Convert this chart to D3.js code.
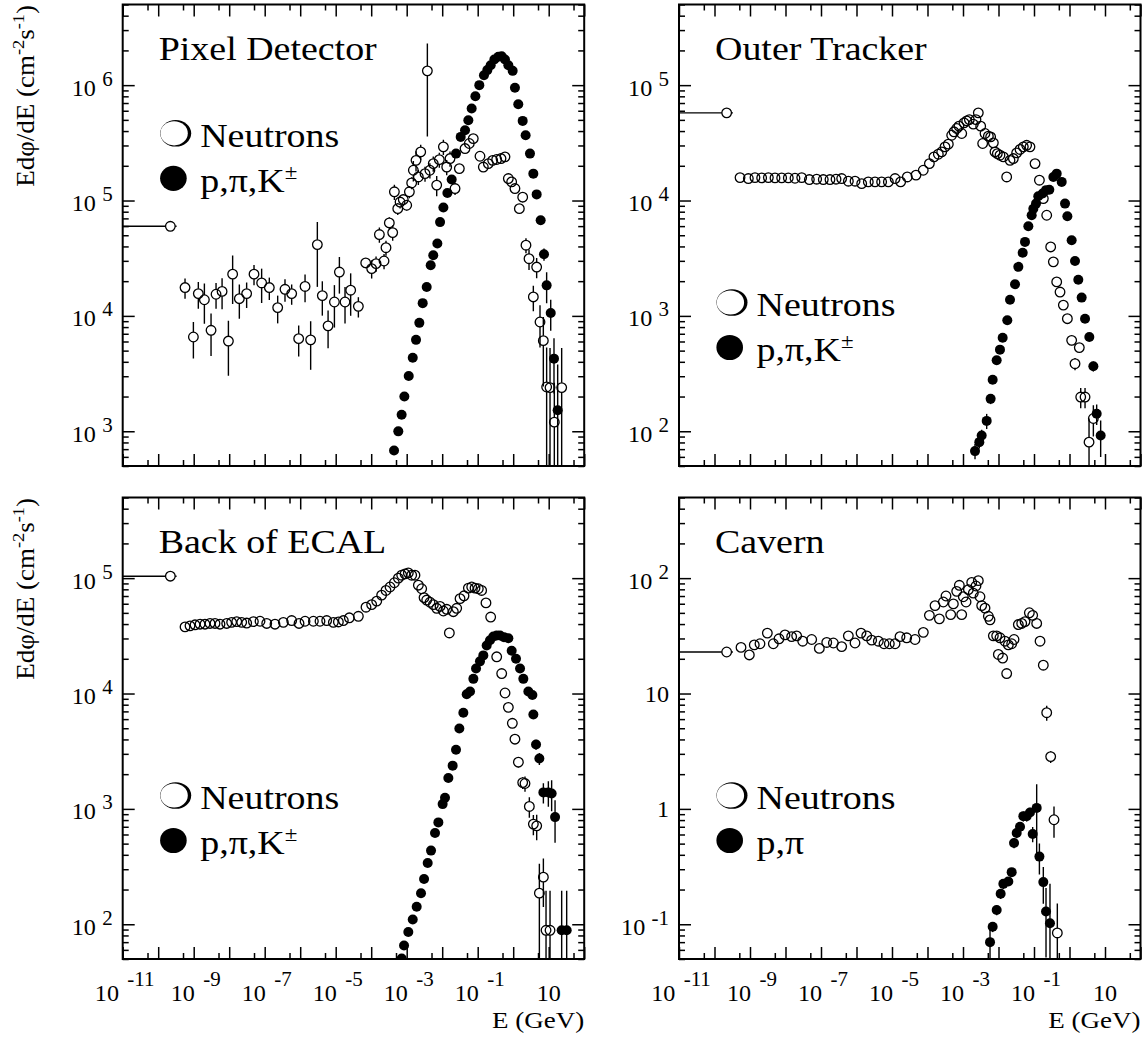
<!DOCTYPE html>
<html><head><meta charset="utf-8">
<script src="https://cdn.jsdelivr.net/npm/d3@7"></script>
<style>
body{margin:0;background:#fff}
svg{display:block}
text{font-family:"Liberation Serif","Times New Roman",serif;fill:#000}
</style>
</head><body>
<svg id="c" width="1146" height="1038"></svg>
<script>
// ---------------- DATA ----------------
const xDomain = [1e-11, 100];
const xTickValues = [1e-11, 1e-9, 1e-7, 1e-5, 1e-3, 1e-1, 10];
const xTickLabels = [["10","-11"],["10","-9"],["10","-7"],["10","-5"],["10","-3"],["10","-1"],["10",""]];
const xTitle = "E (GeV)";

const panelTitles = ["Pixel Detector", "Outer Tracker", "Back of ECAL", "Cavern"];
const neutronLabel = "Neutrons";
const chargedLabels = ["p,π,K", "p,π,K", "p,π,K", "p,π"];
const chargedSup = ["±", "±", "±", ""];
const yDomains = [[500, 5e6], [50, 5e5], [50, 5e5], [0.05, 500]];
const yTickValues = [[1e3,1e4,1e5,1e6],[1e2,1e3,1e4,1e5],[1e2,1e3,1e4,1e5],[0.1,1,10,100]];
const yTickLabels = [
  [["10","3"],["10","4"],["10","5"],["10","6"]],
  [["10","2"],["10","3"],["10","4"],["10","5"]],
  [["10","2"],["10","3"],["10","4"],["10","5"]],
  [["10","-1"],["1",""],["10",""],["10","2"]]
];

// thermal neutron point (with horizontal bar)
const thermalE = 2.2e-10, thermalELow = 1e-12, thermalEHigh = 3.3e-10;
const thermalFlux = [5.98e4, 5.75e4, 1.04e5, 22.9];

// Pixel detector
const pixNeutronE = [5.7e-10,9.8e-10,1.35e-9,2.0e-9,3.08e-9,4.26e-9,6.3e-9,9.5e-9,1.25e-8,1.93e-8,
 3.1e-8,5.0e-8,8.2e-8,1.35e-7,2.32e-7,3.73e-7,5.75e-7,9.06e-7,1.37e-6,1.97e-6,
 3.04e-6,4.2e-6,6.1e-6,9.2e-6,1.27e-5,1.83e-5,2.64e-5,4.35e-5,7.0e-5,1.03e-4,
 1.37e-4,1.7e-4,2.3e-4,2.61e-4,3.24e-4,4.03e-4,4.5e-4,5.6e-4,6.5e-4,8.0e-4,
 1.0e-3,1.19e-3,1.38e-3,1.54e-3,1.83e-3,2.13e-3,2.48e-3,3.28e-3,3.82e-3,4.5e-3,
 5.6e-3,7.0e-3,8.3e-3,1.08e-2,1.34e-2,1.66e-2,2.3e-2,3.04e-2,4.4e-2,5.8e-2,
 7.5e-2,0.116,0.144,0.199,0.264,0.342,0.453,0.587,0.73,0.904,
 1.12,1.49,1.85,2.29,2.79,3.69,4.58,5.69,7.06,8.75,
 10.9,14.4,23.2];
const pixNeutronFlux = [1.76e4,6.56e3,1.56e4,1.38e4,7.5e3,1.54e4,1.63e4,6.05e3,2.3e4,1.41e4,
 1.56e4,2.3e4,1.93e4,1.76e4,1.18e4,1.7e4,1.56e4,6.35e3,1.8e4,6.2e3,
 4.15e4,1.5e4,8.2e3,1.32e4,2.4e4,1.32e4,1.67e4,1.21e4,2.88e4,2.57e4,
 2.84e4,5.07e4,2.99e4,3.9e4,6.4e4,5.27e4,1.19e5,8.5e4,9.7e4,1.02e5,
 9.1e4,1.19e5,1.42e5,1.83e5,2.23e5,1.6e5,2.64e5,1.71e5,1.33e6,1.83e5,
 2.09e5,1.36e5,2.26e5,2.92e5,1.95e5,2.31e5,1.27e5,1.89e5,2.82e5,3.12e5,
 3.44e5,2.42e5,1.95e5,2.09e5,2.23e5,2.27e5,2.31e5,2.39e5,1.55e5,1.45e5,
 1.27e5,8.5e4,1.07e5,4.1e4,3.13e4,1.46e4,2.65e4,8.85e3,6.1e3,2.42e3,
 2.39e3,1.2e3,2.39e3];
const pixNeutronRelErr = [.2,.35,.26,.38,.4,.25,.3,.5,.45,.33,
 .25,.2,.33,.22,.27,.22,.2,.3,.27,.45,
 .57,.33,.36,.4,.35,.35,.4,.2,.1,.18,
 .15,.15,.15,.15,.12,.15,.15,.12,.12,.1,
 .1,.12,.12,.2,.2,.15,.15,.15,.73,.15,
 .15,.2,.15,.15,.15,.15,.12,.1,.08,.08,
 .08,.06,.06,.06,.06,.06,.06,.06,.08,.08,
 .1,.1,.1,.15,.2,.25,.2,.4,.6,1.2,
 1.2,1.2,1.2];
const pixChargedE = [4.4e-4,5.8e-4,7.2e-4,8.6e-4,1.14e-3,1.48e-3,1.83e-3,2.27e-3,2.82e-3,3.66e-3,
 4.74e-3,5.6e-3,7.3e-3,8.7e-3,1.08e-2,1.4e-2,1.85e-2,2.45e-2,3.32e-2,4.4e-2,
 5.45e-2,6.76e-2,0.086,0.111,0.150,0.187,0.232,0.294,0.381,0.473,
 0.587,0.73,0.966,1.12,1.39,1.85,2.24,2.97,3.69,4.58,
 5.94,7.37,8.75,11.4,14.1,17.9];
const pixChargedFlux = [682,998,1.39e3,2.0e3,3.01e3,4.34e3,6.2e3,8.7e3,1.29e4,1.78e4,
 2.75e4,3.35e4,4.24e4,6.5e4,8.7e4,1.16e5,1.52e5,2.55e5,3.56e5,4.07e5,
 4.97e5,6.27e5,8.0e5,1.0e6,1.22e6,1.35e6,1.49e6,1.67e6,1.76e6,1.78e6,
 1.67e6,1.49e6,1.33e6,9.5e5,6.84e5,4.9e5,3.68e5,2.55e5,1.71e5,1.13e5,
 6.75e4,3.42e4,1.84e4,1.06e4,4.26e3,1.52e3];
const pixChargedRelErr = [.02,.02,.02,.02,.02,.02,.02,.02,.02,.02,
 .02,.02,.02,.02,.02,.02,.02,.02,.02,.02,
 .02,.02,.02,.02,.02,.02,.02,.02,.02,.02,
 .02,.02,.02,.02,.02,.02,.02,.02,.02,.03,
 .08,.12,.3,.3,.5,1.5];

// Outer tracker
const otNeutronE = [5.24e-10,8.98e-10,1.38e-9,2.13e-9,3.29e-9,5.06e-9,7.8e-9,1.2e-8,1.85e-8,2.86e-8,
 4.7e-8,7.55e-8,1.16e-7,1.79e-7,2.65e-7,3.82e-7,5.9e-7,9.1e-7,1.4e-6,2.15e-6,
 3.32e-6,5.1e-6,7.9e-6,1.22e-5,1.75e-5,2.7e-5,4.74e-5,7.6e-5,1.13e-4,1.52e-4,
 2.02e-4,2.51e-4,3.11e-4,3.86e-4,4.8e-4,5.58e-4,6.64e-4,7.7e-4,9.2e-4,1.07e-3,
 1.27e-3,1.51e-3,1.95e-3,2.32e-3,2.7e-3,3.15e-3,3.58e-3,4.17e-3,5.18e-3,6.0e-3,
 7.16e-3,7.96e-3,9.27e-3,1.1e-2,1.37e-2,1.7e-2,2.11e-2,2.62e-2,3.25e-2,4.04e-2,
 5.0e-2,6.2e-2,7.7e-2,0.107,0.142,0.183,0.228,0.295,0.351,0.436,
 0.541,0.671,0.871,1.15,1.43,1.89,2.07,2.74,4.7,3.55];
const otNeutronFlux = [1.58e4,1.55e4,1.58e4,1.57e4,1.58e4,1.57e4,1.57e4,1.57e4,1.56e4,1.58e4,
 1.52e4,1.53e4,1.52e4,1.52e4,1.53e4,1.55e4,1.47e4,1.47e4,1.4e4,1.45e4,
 1.45e4,1.45e4,1.45e4,1.55e4,1.45e4,1.6e4,1.66e4,1.83e4,2.09e4,2.39e4,
 2.52e4,2.64e4,2.92e4,3.08e4,3.68e4,3.94e4,4.21e4,4.41e4,3.81e4,4.71e4,
 4.9e4,5.03e4,4.59e4,5.03e4,5.75e4,4.41e4,3.12e4,3.81e4,3.61e4,3.56e4,
 3.16e4,2.64e4,2.55e4,2.47e4,2.39e4,1.6e4,2.23e4,2.31e4,2.59e4,2.77e4,
 2.92e4,3.01e4,2.92e4,2.09e4,1.5e4,1.04e4,7.45e3,3.96e3,2.94e3,1.97e3,
 1.61e3,1.24e3,946,614,385,531,198,198,129,80.5];
const otNeutronRelErr = [.02,.02,.02,.02,.02,.02,.02,.02,.02,.02,
 .02,.02,.02,.02,.02,.02,.02,.02,.02,.02,
 .02,.02,.02,.02,.02,.02,.02,.02,.02,.02,
 .02,.02,.02,.02,.02,.02,.02,.02,.02,.02,
 .02,.02,.02,.02,.02,.02,.02,.02,.02,.02,
 .02,.02,.02,.02,.02,.02,.02,.02,.02,.02,
 .02,.02,.02,.03,.03,.03,.04,.05,.05,.06,
 .06,.07,.08,.1,.12,.1,.2,.2,.3,.6];
const otChargedE = [2.18e-3,2.88e-3,3.36e-3,4.65e-3,6.0e-3,6.85e-3,8.88e-3,1.1e-2,1.31e-2,1.77e-2,
 2.11e-2,2.92e-2,3.62e-2,4.8e-2,5.58e-2,6.93e-2,8.6e-2,9.58e-2,0.114,0.132,
 0.175,0.218,0.27,0.351,0.436,0.603,0.748,0.871,1.15,1.43,
 1.77,2.2,2.74,3.62,4.7,5.83,7.55];
const otChargedFlux = [67.3,80.5,92,123,191,280,412,510,647,916,
 1.38e3,1.88e3,2.66e3,3.52e3,4.38e3,5.98e3,7.45e3,8.5e3,9.4e3,1.09e4,
 1.15e4,1.23e4,1.24e4,1.6e4,1.71e4,1.45e4,9.4e3,7.3e3,4.52e3,2.99e3,
 2.06e3,1.44e3,946,656,366,142,92];
const otChargedRelErr = [.15,.12,.12,.15,.1,.08,.05,.05,.05,.04,
 .03,.03,.03,.03,.03,.03,.03,.03,.03,.03,
 .03,.03,.03,.03,.03,.03,.03,.03,.03,.04,
 .05,.05,.06,.08,.1,.2,.35];

// Back of ECAL
const ecNeutronE = [5.7e-10,7.87e-10,1.09e-9,1.51e-9,2.08e-9,2.88e-9,3.98e-9,5.5e-9,8.5e-9,1.17e-8,
 1.63e-8,2.25e-8,3.11e-8,4.8e-8,7.38e-8,1.14e-7,1.95e-7,3.35e-7,5.75e-7,9.27e-7,
 1.37e-6,2.35e-6,3.61e-6,5.57e-6,8.59e-6,1.19e-5,1.64e-5,2.42e-5,4.35e-5,7.14e-5,
 1.03e-4,1.43e-4,1.97e-4,2.61e-4,3.39e-4,4.49e-4,5.82e-4,7.23e-4,8.97e-4,1.11e-3,
 1.38e-3,1.71e-3,2.13e-3,2.64e-3,3.08e-3,3.66e-3,4.54e-3,5.64e-3,7.0e-3,8.69e-3,
 1.08e-2,1.34e-2,1.59e-2,2.06e-2,2.56e-2,3.18e-2,4.12e-2,5.46e-2,6.78e-2,8.41e-2,
 0.104,0.129,0.171,0.232,0.343,0.474,0.589,0.73,0.946,1.12,
 1.40,1.85,2.15,2.85,3.70,4.59,5.46,7.08,8.41,10.9];
const ecNeutronFlux = [3.78e4,3.86e4,3.94e4,3.99e4,3.99e4,4.05e4,4.05e4,3.99e4,4.05e4,4.14e4,
 4.2e4,4.14e4,4.08e4,4.2e4,4.23e4,4.05e4,3.99e4,4.14e4,4.29e4,4.05e4,
 4.23e4,4.23e4,4.23e4,4.29e4,4.14e4,4.17e4,4.29e4,4.53e4,4.67e4,5.6e4,
 5.89e4,6.32e4,7.13e4,7.82e4,8.38e4,9.12e4,1e5,1.06e5,1.09e5,1.11e5,
 1.06e5,1.06e5,8.69e4,8.09e4,6.78e4,6.46e4,6.18e4,5.89e4,5.48e4,5.69e4,
 5.19e4,5.37e4,3.35e4,5.12e4,5.48e4,6.64e4,7.03e4,8.2e4,8.38e4,8.2e4,
 8.09e4,7.82e4,6.1e4,4.6e4,2.08e4,1.49e4,1.01e4,7.59e3,5.52e3,4.02e3,
 2.54e3,1.69e3,1.66e3,1.05e3,738,713,186,256,88.7,88.7];
const ecNeutronRelErr = [.02,.02,.02,.02,.02,.02,.02,.02,.02,.02,
 .02,.02,.02,.02,.02,.02,.02,.02,.02,.02,
 .02,.02,.02,.02,.02,.02,.02,.02,.02,.02,
 .02,.02,.02,.02,.02,.02,.02,.02,.02,.02,
 .02,.02,.02,.02,.02,.02,.02,.02,.02,.02,
 .02,.02,.02,.02,.02,.02,.02,.02,.02,.02,
 .02,.02,.02,.03,.03,.03,.04,.05,.06,.08,
 .1,.12,.15,.2,.2,.25,.8,.45,1.2,1.2];
const ecChargedE = [7.23e-4,8.41e-4,1.11e-3,1.48e-3,1.91e-3,2.53e-3,3.08e-3,3.9e-3,4.84e-3,6.28e-3,
 7.8e-3,1.03e-2,1.2e-2,1.49e-2,1.97e-2,2.45e-2,3.04e-2,3.94e-2,4.9e-2,6.08e-2,
 7.55e-2,8.97e-2,0.116,0.144,0.179,0.222,0.276,0.343,0.426,0.551,
 0.73,0.906,1.2,1.56,1.93,2.67,3.47,3.7,4.4,5.46,
 7.08,9.78,12.1,15.1,23.2,32.1];
const ecChargedFlux = [50.4,65.5,85.7,110,142,186,247,340,435,618,
 764,1.1e3,1.25e3,1.85e3,2.37e3,3.25e3,4.97e3,6.82e3,9.86e3,1.04e4,
 1.34e4,1.65e4,1.9e4,2.14e4,2.61e4,2.9e4,3.12e4,3.18e4,3.18e4,3.08e4,
 3.01e4,2.35e4,2.0e4,1.65e4,1.34e4,1.04e4,9.72e3,6.59e3,3.61e3,2.73e3,
 1.39e3,1.39e3,1.36e3,849,88.7,88.7];
const ecChargedRelErr = [.05,.05,.04,.03,.03,.03,.03,.02,.02,.02,
 .02,.02,.02,.02,.02,.02,.02,.02,.02,.02,
 .02,.02,.02,.02,.02,.02,.02,.02,.02,.02,
 .02,.02,.02,.03,.03,.04,.05,.06,.1,.12,
 .2,.25,.3,.4,1.2,1.2];

// Cavern
const cavNeutronE = [5.58e-10,9.57e-10,1.32e-9,1.91e-9,3.08e-9,4.54e-9,6.56e-9,9.68e-9,1.49e-8,2.06e-8,
 3.05e-8,5.46e-8,8.97e-8,1.45e-7,2.23e-7,3.82e-7,5.89e-7,9.08e-7,1.34e-6,1.94e-6,
 2.67e-6,4.12e-6,5.96e-6,8.41e-6,1.22e-5,1.68e-5,2.59e-5,4.45e-5,7.63e-5,1.13e-4,
 1.63e-4,2.16e-4,2.79e-4,3.32e-4,4.5e-4,5.35e-4,6.64e-4,7.89e-4,9.18e-4,1.02e-3,
 1.22e-3,1.42e-3,1.76e-3,1.95e-3,2.32e-3,2.7e-3,3.01e-3,3.36e-3,4.17e-3,5.18e-3,
 5.77e-3,7.16e-3,8.88e-3,9.9e-3,1.1e-2,1.31e-2,1.52e-2,1.7e-2,1.89e-2,2.35e-2,
 2.74e-2,3.62e-2,4.5e-2,5.58e-2,7.4e-2,9.18e-2,0.119,0.148,0.183,0.228,
 0.295,0.366,0.454];
const cavNeutronFlux = [25.1,21.6,26.4,27.0,33.4,27.0,29.8,32.2,31.1,31.6,
 28.4,29.4,24.6,27.7,27.4,25.5,31.6,27.4,33.4,31.6,
 29.0,28.4,27.0,27.0,27.0,31.1,30.4,29.4,33.9,47.6,
 57.8,44.4,62.1,70.0,48.3,59.8,76.8,86.7,48.3,69.0,
 62.1,79.6,91.8,74.1,85.5,95.1,69.0,57.8,55.0,46.7,
 43.5,31.6,31.6,21.8,30.4,20.3,28.4,14.9,26.4,27.0,
 29.4,39.6,40.5,42.0,50.1,47.6,40.5,28.4,17.6,6.82,
 2.84,0.805,0.0841];
const cavNeutronRelErr = [.04,.04,.04,.04,.06,.04,.04,.04,.04,.04,
 .04,.04,.04,.04,.04,.04,.04,.04,.04,.04,
 .04,.04,.04,.04,.04,.04,.04,.04,.04,.06,
 .06,.06,.08,.08,.08,.08,.08,.08,.08,.08,
 .08,.08,.08,.08,.08,.08,.08,.08,.06,.06,
 .06,.06,.06,.06,.06,.06,.06,.06,.06,.06,
 .05,.05,.05,.05,.05,.05,.05,.06,.08,.15,
 .12,.3,.8];
const cavChargedE = [5.77e-3,6.85e-3,8.88e-3,1.15e-2,1.37e-2,1.89e-2,2.35e-2,2.74e-2,3.25e-2,4.04e-2,
 5.01e-2,6.21e-2,7.71e-2,9.18e-2,0.119,0.142,0.183,0.218,0.282];
const cavChargedFlux = [0.07,0.095,0.133,0.184,0.224,0.235,0.283,0.507,0.619,0.699,
 0.865,0.865,0.929,0.605,1.02,0.386,0.232,0.129,0.102];
const cavChargedRelErr = [.3,.1,.1,.1,.1,.08,.08,.1,.1,.1,
 .1,.1,.1,.15,.6,.3,.35,.6,1.2];

// ---------------- BUILD TABLES ----------------
function series(E, F, R) { return E.map((e, i) => ({e, f: F[i], r: R[i]})); }
const neutronSeries = [
  series(pixNeutronE, pixNeutronFlux, pixNeutronRelErr),
  series(otNeutronE, otNeutronFlux, otNeutronRelErr),
  series(ecNeutronE, ecNeutronFlux, ecNeutronRelErr),
  series(cavNeutronE, cavNeutronFlux, cavNeutronRelErr)
];
const chargedSeries = [
  series(pixChargedE, pixChargedFlux, pixChargedRelErr),
  series(otChargedE, otChargedFlux, otChargedRelErr),
  series(ecChargedE, ecChargedFlux, ecChargedRelErr),
  series(cavChargedE, cavChargedFlux, cavChargedRelErr)
];

// ---------------- LAYOUT ----------------
const W = 461.5, H = 461.5;
const panelLeft = [122.7, 679, 122.7, 679];
const panelTop = [4.5, 4.5, 497.5, 497.5];
const legendTop = [128.8, 298, 298, 298];
const openR = 4.8, fillR = 5;

const svg = d3.select("#c");
svg.append("rect").attr("width", 1146).attr("height", 1038).attr("fill", "#fff");

function stext(parent, x, y, size, anchor, sx, rot) {
  return parent.append("text")
    .attr("transform", `translate(${x},${y})${rot ? " rotate(" + rot + ")" : ""} scale(${sx},1)`)
    .attr("text-anchor", anchor).attr("font-size", size);
}
const mant = v => v / Math.pow(10, Math.floor(Math.log10(v) + 1e-9));

for (let i = 0; i < 4; i++) {
  const g = svg.append("g").attr("transform", `translate(${panelLeft[i]},${panelTop[i]})`);
  const x = d3.scaleLog().domain(xDomain).range([0, W]);
  const y = d3.scaleLog().domain(yDomains[i]).range([H, 0]);

  // ticks: decades (major) and 5x (minor) on x; decades and 2..9 on y
  const xt = x.ticks(20);
  const xMajor = xt.filter(v => Math.abs(mant(v) - 1) < 1e-6);
  const xMinor = xt.filter(v => Math.abs(mant(v) - 5) < 1e-6);
  const yt = y.ticks(8);
  const yMajor = yt.filter(v => Math.abs(mant(v) - 1) < 1e-6);
  const yMinor = yt.filter(v => Math.abs(mant(v) - 1) >= 1e-6);

  const tickG = g.append("g");
  function tickAxis(axisFn, scale, vals, len, tr) {
    const a = tickG.append("g").attr("transform", tr)
      .call(axisFn(scale).tickValues(vals).tickSize(-len).tickFormat(""));
    a.select(".domain").remove();
    a.selectAll("line").attr("stroke", "#000").attr("stroke-width", 1.5);
  }
  tickAxis(d3.axisBottom, x, xMajor, 12, `translate(0,${H})`);
  tickAxis(d3.axisBottom, x, xMinor, 6, `translate(0,${H})`);
  tickAxis(d3.axisTop, x, xMajor, 12, `translate(0,0)`);
  tickAxis(d3.axisTop, x, xMinor, 6, `translate(0,0)`);
  tickAxis(d3.axisLeft, y, yMajor, 12, `translate(0,0)`);
  tickAxis(d3.axisLeft, y, yMinor, 6, `translate(0,0)`);
  tickAxis(d3.axisRight, y, yMajor, 12, `translate(${W},0)`);
  tickAxis(d3.axisRight, y, yMinor, 6, `translate(${W},0)`);

  // y tick labels
  yTickValues[i].forEach((v, k) => {
    const [b, e] = yTickLabels[i][k];
    const t = stext(g, -10, y(v), 23, "end", 1.05);
    if (e) {
      t.append("tspan").attr("dy", 10.5).text(b);
      t.append("tspan").attr("dx", 6).attr("dy", -10).attr("font-size", 20).text(e);
    } else {
      t.append("tspan").attr("dy", 8).text(b);
    }
  });

  // x tick labels on bottom panels
  if (i >= 2) {
    xTickValues.forEach((v, k) => {
      const [b, e] = xTickLabels[k];
      const t = stext(g, x(v) + (e ? 2 : 0), H + 41.7, 23, "middle", 1.05);
      t.append("tspan").text(b);
      if (e) t.append("tspan").attr("dx", 8).attr("dy", -15).attr("font-size", 20).text(e);
    });
    stext(g, W, H + 69, 23.5, "end", 1.15).text(xTitle);
  }

  // y title on left panels
  if (i % 2 === 0) {
    const t = stext(g, 33.5 - panelLeft[i], 0.5, 25, "end", 1.08, -90);
    t.append("tspan").text("Edφ/dE (cm");
    t.append("tspan").attr("dy", -10).attr("font-size", 17).text("-2");
    t.append("tspan").attr("dy", 10).text("s");
    t.append("tspan").attr("dy", -10).attr("font-size", 17).text("-1");
    t.append("tspan").attr("dy", 10).text(")");
  }

  // data
  const clipId = "clip" + i;
  g.append("clipPath").attr("id", clipId).append("rect").attr("width", W).attr("height", H);
  const plot = g.append("g").attr("clip-path", `url(#${clipId})`);
  const ymin = yDomains[i][0];
  const errY = (d, s) => { const v = d.f * (1 + s * d.r); return v <= ymin ? H + 5 : y(v); };

  // charged: error bars + filled markers
  const cs = chargedSeries[i];
  plot.append("g").selectAll("line").data(cs).join("line")
    .attr("x1", d => x(d.e)).attr("x2", d => x(d.e))
    .attr("y1", d => errY(d, 1)).attr("y2", d => errY(d, -1))
    .attr("stroke", "#000").attr("stroke-width", 1.4);
  plot.append("g").selectAll("circle").data(cs).join("circle")
    .attr("cx", d => x(d.e)).attr("cy", d => y(d.f)).attr("r", fillR).attr("fill", "#000");

  // neutrons: error bars with gap + open markers
  const ns = neutronSeries[i];
  const eg = plot.append("g").attr("stroke", "#000").attr("stroke-width", 1.4);
  ns.forEach(d => {
    const cx = x(d.e), cy = y(d.f);
    const top = errY(d, 1), bot = errY(d, -1);
    if (top < cy - openR) eg.append("line").attr("x1", cx).attr("x2", cx).attr("y1", top).attr("y2", cy - openR);
    if (bot > cy + openR) eg.append("line").attr("x1", cx).attr("x2", cx).attr("y1", cy + openR).attr("y2", bot);
  });
  plot.append("g").selectAll("circle").data(ns).join("circle")
    .attr("cx", d => x(d.e)).attr("cy", d => y(d.f)).attr("r", openR)
    .attr("fill", "none").attr("stroke", "#000").attr("stroke-width", 1.3);

  // thermal point
  const tx = x(thermalE), ty = y(thermalFlux[i]);
  plot.append("line").attr("x1", x(thermalELow)).attr("x2", tx - openR).attr("y1", ty).attr("y2", ty)
    .attr("stroke", "#000").attr("stroke-width", 1.4);
  plot.append("line").attr("x1", tx + openR).attr("x2", x(thermalEHigh)).attr("y1", ty).attr("y2", ty)
    .attr("stroke", "#000").attr("stroke-width", 1.4);
  plot.append("circle").attr("cx", tx).attr("cy", ty).attr("r", openR)
    .attr("fill", "none").attr("stroke", "#000").attr("stroke-width", 1.3);

  // frame
  g.append("rect").attr("width", W).attr("height", H).attr("fill", "none")
    .attr("stroke", "#000").attr("stroke-width", 2);

  // title
  stext(g, 36, 55.5, 33, "start", 1.15).text(panelTitles[i]);

  // legend
  const ly = legendTop[i];
  g.append("ellipse").attr("cx", 53).attr("cy", ly).attr("rx", 15.5).attr("ry", 13.3).attr("fill", "#000");
  g.append("ellipse").attr("cx", 51.4).attr("cy", ly).attr("rx", 13.7).attr("ry", 12.1).attr("fill", "#fff");
  stext(g, 77.5, ly + 13.4, 33, "start", 1.15).text(neutronLabel);
  g.append("ellipse").attr("cx", 50.7).attr("cy", ly + 45).attr("rx", 13.3).attr("ry", 12.6).attr("fill", "#000");
  const ct = stext(g, 77.5, ly + 58.2, 33, "start", 1.15);
  ct.append("tspan").text(chargedLabels[i]);
  if (chargedSup[i]) ct.append("tspan").attr("dy", -13).attr("font-size", 20).text(chargedSup[i]);
}
</script>
</body></html>
